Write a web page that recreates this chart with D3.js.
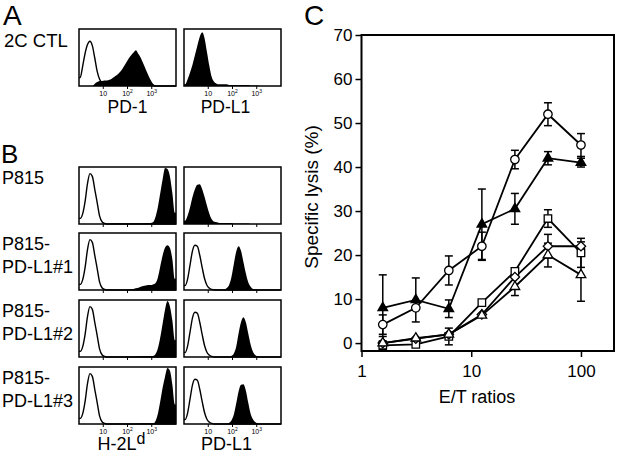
<!DOCTYPE html>
<html lang="en">
<head>
<meta charset="UTF-8" />
<title>PD-L1 on P815 and CTL lysis</title>
<script src="https://cdn.jsdelivr.net/npm/d3@7"></script>
<style>
    body { margin: 0; background: #fff; }
    svg { display: block; font-family: 'Liberation Sans', Arial, Helvetica, sans-serif; }
</style>
</head>
<body>
<div id="container"></div>
<script>
// ---- histogram data: 40 bins over 4 log decades (10 bins / decade), height in % of box ----
const pd1Ctrl = [15,35,58,74,80,72,50,26,12,6, 4,3,3,2,2,2,2,2,2,2, 2,2,2,2,2,1,1,1,1,1, 1,0,0,0,0,0,0,0,0,0]
const pd1Ctl = [0,0,0,0,0,0,4,7,9,9, 10,10,11,13,16,19,23,28,35,42, 49,55,60,64,57,50,40,30,20,11, 4,1,0,0,0,0,0,0,0,0]
const pdl1Ctl = [3,12,24,38,55,72,88,96,85,60, 35,15,7,4,3,3,3,3,2,2, 2,2,2,2,2,2,2,1,1,1, 1,0,0,0,0,0,0,0,0,0]

const h2Ctrl = [10,18,40,72,90,85,62,38,14,4, 1,0,0,0,0,0,0,0,0,0, 0,0,0,0,0,0,0,0,0,0, 0,0,0,0,0,0,0,0,0,0]
const pdl1Ctrl = [8,20,45,70,80,78,62,40,20,8, 3,1,0,0,0,0,0,0,0,0, 0,0,0,0,0,0,0,0,0,0, 0,0,0,0,0,0,0,0,0,0]

const h2P815 = [0,0,0,0,0,0,0,0,0,0, 0,0,0,1,1,1,1,1,1,1, 1,1,1,1,1,1,1,2,2,2, 3,12,30,55,80,100,98,85,55,20]
const h2Pdl1n1 = [0,0,0,0,0,0,0,0,0,0, 0,0,0,0,0,0,0,0,0,0, 1,1,2,3,4,6,7,8,9,9, 10,12,22,42,62,76,80,75,55,20]
const h2Pdl1n2 = [0,0,0,0,0,0,0,0,0,0, 0,0,0,0,0,0,0,0,0,0, 0,0,0,1,1,1,2,2,2,2, 2,5,15,35,60,85,100,90,65,30]
const h2Pdl1n3 = [0,0,0,0,0,0,0,0,0,0, 0,0,0,0,0,0,0,0,0,0, 0,0,0,0,1,1,1,1,1,1, 1,5,18,40,65,85,100,95,70,35]

const pdl1P815 = [6,15,30,48,62,70,71,62,48,32, 18,8,4,3,2,2,2,2,2,2, 1,1,1,1,1,1,1,0,0,0, 0,0,0,0,0,0,0,0,0,0]
const pdl1n1 = [0,0,0,0,0,0,0,0,0,0, 0,0,0,0,0,0,0,3,8,22, 45,68,78,70,50,30,14,6,2,1, 0,0,0,0,0,0,0,0,0,0]
const pdl1n2 = [0,0,0,0,0,0,0,0,0,0, 0,0,0,0,0,0,0,0,0,2, 6,18,42,62,71,62,42,22,9,3, 1,0,0,0,0,0,0,0,0,0]
const pdl1n3 = [0,0,0,0,0,0,0,0,0,0, 0,0,0,0,0,0,0,0,2,6, 16,36,58,70,71,60,38,18,8,3, 1,0,0,0,0,0,0,0,0,0]

const rowLabels = [['P815'], ['P815-', 'PD-L1#1'], ['P815-', 'PD-L1#2'], ['P815-', 'PD-L1#3']]
const rowH2 = [h2P815, h2Pdl1n1, h2Pdl1n2, h2Pdl1n3]
const rowPdl1 = [pdl1P815, pdl1n1, pdl1n2, pdl1n3]
const rowPdl1Ctrl = [null, pdl1Ctrl, pdl1Ctrl, pdl1Ctrl]
const decadeLabels = [['10', ''], ['10', '2'], ['10', '3']]

// ---- panel C: specific lysis vs E/T ratio ----
const etRatios = [1.5625, 3.125, 6.25, 12.5, 25, 50, 100]
const openCircle = [4.2, 8, 16.5, 22, 41.7, 52, 45]
const openCircleErr = [2.2, 0, 3.3, 3.2, 2.1, 2.6, 2.6]
const filledTri = [8, 9.8, 7.8, 27, 30.5, 42, 41]
const filledTriErr = [7.5, 5, 2, 8, 3.5, 1.5, 1]
const openSquare = [-0.5, -0.3, 1.5, 9.2, 16.3, 28.3, 20.5]
const openSquareErr = [0, 0, 1.9, 0, 0, 2, 3.3]
const openDiamond = [0, 1, 2, 6.5, 15, 22, 22]
const openDiamondErr = [1.5, 0, 0, 0, 0, 2.7, 1]
const openTri = [0, 1.1, 2, 6.3, 12.8, 20, 15.5]
const openTriErr = [0, 0, 0, 0, 2, 2.7, 6]
const yTicks = [0, 10, 20, 30, 40, 50, 60, 70]
const xTicks = [1, 10, 100]

const width = 618
const height = 458
const svg = d3.select('#container').append('svg').attr('width', width).attr('height', height)
svg.append('rect').attr('width', width).attr('height', height).attr('fill', '#fff')

const histW = 97
const histH = 57
const histX = [79, 184]

const drawHist = (x0, y0, openVals, filledVals, withLabels) => {
    const hx = d3.scaleLinear().domain([0, 4]).range([x0, x0 + histW])
    const hy = d3.scaleLinear().domain([0, 100]).range([y0 + histH, y0 + 1])
    const pts = (vals) => [[0, vals[0]], ...vals.map((v, i) => [0.05 + i * 0.1, v]), [4, vals[vals.length - 1]]]
    const g = svg.append('g')

    if (filledVals) {
        const area = d3.area().x((d) => hx(d[0])).y0(hy(0)).y1((d) => hy(d[1])).curve(d3.curveMonotoneX)
        g.append('path').attr('d', area(pts(filledVals))).attr('fill', '#000')
    }
    if (openVals) {
        const line = d3.line().x((d) => hx(d[0])).y((d) => hy(d[1])).curve(d3.curveMonotoneX)
        g.append('path').attr('d', line(pts(openVals))).attr('fill', 'none').attr('stroke', '#000').attr('stroke-width', 1.4)
    }
    g.append('rect')
        .attr('x', x0).attr('y', y0).attr('width', histW).attr('height', histH)
        .attr('fill', 'none').attr('stroke', '#000').attr('stroke-width', 1.5)

    g.selectAll('.htick').data([1, 2, 3]).enter().append('line')
        .attr('x1', (d) => hx(d)).attr('x2', (d) => hx(d))
        .attr('y1', y0 + histH).attr('y2', y0 + histH + 3)
        .attr('stroke', '#000').attr('stroke-width', 1)

    if (withLabels) {
        const t = g.selectAll('.hlab').data(decadeLabels).enter().append('text')
            .attr('x', (d, i) => hx(i + 1)).attr('y', y0 + histH + 10)
            .attr('text-anchor', 'middle').style('font-size', '7px')
        t.append('tspan').text((d) => d[0])
        t.append('tspan').attr('dy', -3).style('font-size', '5px').text((d) => d[1])
    }
}

const label = (txt, x, y, size, anchor) =>
    svg.append('text').attr('x', x).attr('y', y).attr('text-anchor', anchor || 'start').style('font-size', size + 'px').text(txt)

// panel A
label('A', 3, 25, 28)
label('2C CTL', 4, 47, 18.5)
drawHist(histX[0], 29, pd1Ctrl, pd1Ctl, true)
drawHist(histX[1], 29, null, pdl1Ctl, true)
label('PD-1', histX[0] + histW / 2, 113, 17.5, 'middle')
label('PD-L1', histX[1] + histW / 2 - 7, 113, 17.5, 'middle')

// panel B
label('B', 1, 163, 26)
const rowTops = [167, 233, 300, 367]
rowTops.forEach((top, r) => {
    const last = r === rowTops.length - 1
    drawHist(histX[0], top, h2Ctrl, rowH2[r], last)
    drawHist(histX[1], top, rowPdl1Ctrl[r], rowPdl1[r], last)
    const lines = rowLabels[r]
    if (lines.length === 1) {
        label(lines[0], 2, top + 17, 18)
    } else {
        const mid = top + histH / 2
        label(lines[0], 2, mid - 12, 18)
        label(lines[1], 2, mid + 11, 18)
    }
})
const h2lab = svg.append('text').attr('x', histX[0] + histW / 2 - 6).attr('y', 450).attr('text-anchor', 'middle').style('font-size', '18px')
h2lab.append('tspan').text('H-2L')
h2lab.append('tspan').attr('dy', -6).style('font-size', '16px').text('d')
label('PD-L1', histX[1] + histW / 2 - 6, 450, 18, 'middle')

// panel C
label('C', 304, 25, 28)
const plot = { left: 361.5, right: 614, top: 35, bottom: 351 }
const x = d3.scaleLog().domain([1, 200]).range([plot.left, plot.right])
const y = d3.scaleLinear().domain([-1.8, 70]).range([plot.bottom, plot.top])

const yAxis = svg.append('g').attr('transform', `translate(${plot.left},0)`)
    .call(d3.axisLeft(y).tickValues(yTicks).tickSize(6).tickPadding(3))
const xAxis = svg.append('g').attr('transform', `translate(0,${plot.bottom})`)
    .call(d3.axisBottom(x).tickValues(xTicks).tickFormat(d3.format('d')).tickSize(6).tickPadding(8))
;[yAxis, xAxis].forEach((a) => {
    a.select('.domain').remove()
    a.selectAll('.tick line').attr('stroke-width', 1.5)
    a.selectAll('text').style('font-size', '17px').style('font-family', "'Liberation Sans', Arial, sans-serif").attr('fill', '#000')
})
svg.append('rect')
    .attr('x', plot.left).attr('y', plot.top).attr('width', plot.right - plot.left).attr('height', plot.bottom - plot.top)
    .attr('fill', 'none').attr('stroke', '#000').attr('stroke-width', 2)

svg.append('text').attr('transform', `translate(318,197) rotate(-90)`).attr('text-anchor', 'middle').style('font-size', '19px').text('Specific lysis (%)')
label('E/T ratios', 477, 403, 18, 'middle')

const series = [
    { vals: openCircle, err: openCircleErr, symbol: d3.symbolCircle, size: 56, fill: '#fff', rot: 0 },
    { vals: filledTri, err: filledTriErr, symbol: d3.symbolTriangle, size: 40, fill: '#000', rot: 0 },
    { vals: openSquare, err: openSquareErr, symbol: d3.symbolSquare, size: 56, fill: '#fff', rot: 0 },
    { vals: openDiamond, err: openDiamondErr, symbol: d3.symbolSquare, size: 44, fill: '#fff', rot: 45 },
    { vals: openTri, err: openTriErr, symbol: d3.symbolTriangle, size: 40, fill: '#fff', rot: 0 },
]

const line = d3.line().x((d) => x(d[0])).y((d) => y(d[1]))
series.forEach((s) => {
    svg.append('path').attr('d', line(etRatios.map((e, i) => [e, s.vals[i]])))
        .attr('fill', 'none').attr('stroke', '#000').attr('stroke-width', 1.8)
})

const cap = 4
series.forEach((s) => {
    const g = svg.append('g').attr('stroke', '#000').attr('stroke-width', 1.5)
    etRatios.forEach((e, i) => {
        if (!s.err[i]) return
        const cx = x(e)
        const top = y(s.vals[i] + s.err[i])
        const bot = y(s.vals[i] - s.err[i])
        g.append('line').attr('x1', cx).attr('x2', cx).attr('y1', top).attr('y2', bot)
        g.append('line').attr('x1', cx - cap).attr('x2', cx + cap).attr('y1', top).attr('y2', top)
        g.append('line').attr('x1', cx - cap).attr('x2', cx + cap).attr('y1', bot).attr('y2', bot)
    })
})

series.forEach((s) => {
    svg.append('g').selectAll('path').data(etRatios).enter().append('path')
        .attr('d', d3.symbol().type(s.symbol).size(s.size))
        .attr('transform', (e, i) => `translate(${x(e)},${y(s.vals[i])}) rotate(${s.rot})`)
        .attr('fill', s.fill).attr('stroke', '#000').attr('stroke-width', 1.3)
})
</script>
</body>
</html>
